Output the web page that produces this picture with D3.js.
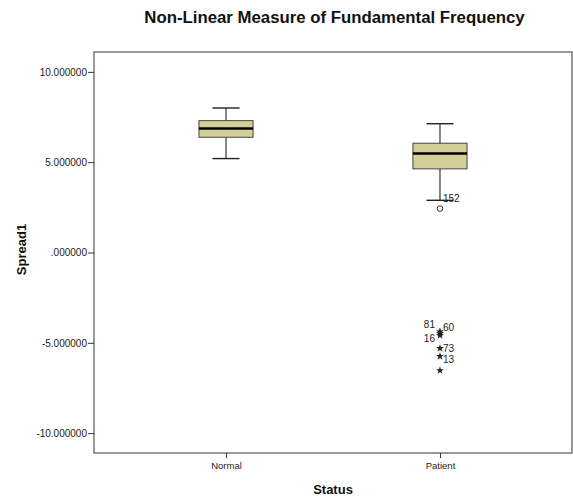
<!DOCTYPE html>
<html>
<head>
<meta charset="utf-8">
<script src="https://cdn.jsdelivr.net/npm/d3@7"></script>
<style>
  html, body { margin: 0; padding: 0; background: #fff; }
  svg { display: block; font-family: "Liberation Sans", Arial, sans-serif; }
</style>
</head>
<body>
<div id="chart"></div>
<script>
// groups and box summaries
const groups = ["Normal", "Patient"];
const whiskerLow = [5.20, 2.89];
const quart1 = [6.38, 4.63];
const medians = [6.86, 5.48];
const quart3 = [7.30, 6.05];
const whiskerHigh = [8.00, 7.13];

// outliers (circle) and extremes (star), Patient group
const outlierGroup = ["Patient"];
const outlierValues = [2.43];
const outlierLabels = ["152"];

const extremeGroup = ["Patient", "Patient", "Patient", "Patient", "Patient", "Patient"];
const extremeValues = [-4.37, -4.48, -4.59, -5.31, -5.75, -6.53];
const extremeLabels = ["81", "60", "16", "73", "13", ""];

const yTicks = [10, 5, 0, -5, -10];

const width = 573, height = 497;
const plot = {left: 94, right: 572, top: 52, bottom: 453};

const svg = d3.select("#chart").append("svg")
    .attr("width", width)
    .attr("height", height);

const x = d3.scalePoint()
    .domain(groups)
    .range([plot.left, plot.right])
    .padding(0.617);

const y = d3.scaleLinear()
    .domain([-11.1, 11.1])
    .range([plot.bottom, plot.top]);

const boxW = x.step() * 0.253;
const capW = boxW / 2;

// frame
svg.append("rect")
    .attr("x", plot.left)
    .attr("y", plot.top)
    .attr("width", plot.right - plot.left)
    .attr("height", plot.bottom - plot.top)
    .attr("fill", "none")
    .attr("stroke", "#555")
    .attr("stroke-width", 1.2);

// axes
const fmt = v => v === 0 ? ".000000" : v.toFixed(6);

const yAxis = svg.append("g")
    .attr("transform", `translate(${plot.left},0)`)
    .call(d3.axisLeft(y).tickValues(yTicks).tickFormat(fmt).tickSize(6).tickSizeOuter(0));
yAxis.select(".domain").remove();
yAxis.selectAll(".tick line").attr("stroke", "#333");
yAxis.selectAll(".tick text")
    .attr("x", -7)
    .attr("fill", "#222")
    .style("font-size", "10px")
    .style("font-family", "'Liberation Sans', Arial, sans-serif");

const xAxis = svg.append("g")
    .attr("transform", `translate(0,${plot.bottom})`)
    .call(d3.axisBottom(x).tickSize(5).tickSizeOuter(0));
xAxis.select(".domain").remove();
xAxis.selectAll(".tick line").attr("stroke", "#333");
xAxis.selectAll(".tick text")
    .attr("y", 9)
    .attr("fill", "#222")
    .style("font-size", "9.5px")
    .style("font-family", "'Liberation Sans', Arial, sans-serif");

// titles
svg.append("text")
    .attr("x", (plot.left + plot.right) / 2 + 1.5)
    .attr("y", 23)
    .attr("text-anchor", "middle")
    .style("font-size", "16.8px")
    .style("font-weight", "bold")
    .attr("fill", "#111")
    .text("Non-Linear Measure of Fundamental Frequency");

svg.append("text")
    .attr("x", (plot.left + plot.right) / 2)
    .attr("y", 494)
    .attr("text-anchor", "middle")
    .style("font-size", "13px")
    .style("font-weight", "bold")
    .attr("fill", "#111")
    .text("Status");

svg.append("text")
    .attr("transform", `translate(26,${(plot.top + plot.bottom) / 2 - 3}) rotate(-90)`)
    .attr("text-anchor", "middle")
    .style("font-size", "13px")
    .style("font-weight", "bold")
    .attr("fill", "#111")
    .text("Spread1");

// boxes
groups.forEach((g, i) => {
    const cx = x(g);
    const box = svg.append("g");

    box.append("line")
        .attr("x1", cx).attr("x2", cx)
        .attr("y1", y(whiskerHigh[i])).attr("y2", y(quart3[i]))
        .attr("stroke", "#333").attr("stroke-width", 1.2);
    box.append("line")
        .attr("x1", cx).attr("x2", cx)
        .attr("y1", y(quart1[i])).attr("y2", y(whiskerLow[i]))
        .attr("stroke", "#333").attr("stroke-width", 1.2);

    [whiskerHigh[i], whiskerLow[i]].forEach(v => {
        box.append("line")
            .attr("x1", cx - capW / 2).attr("x2", cx + capW / 2)
            .attr("y1", y(v)).attr("y2", y(v))
            .attr("stroke", "#222").attr("stroke-width", 1.4);
    });

    box.append("rect")
        .attr("x", cx - boxW / 2)
        .attr("y", y(quart3[i]))
        .attr("width", boxW)
        .attr("height", y(quart1[i]) - y(quart3[i]))
        .attr("fill", "#d4cf98")
        .attr("stroke", "#444")
        .attr("stroke-width", 1);

    box.append("line")
        .attr("x1", cx - boxW / 2).attr("x2", cx + boxW / 2)
        .attr("y1", y(medians[i])).attr("y2", y(medians[i]))
        .attr("stroke", "#000").attr("stroke-width", 2.5);
});

// outliers (circles)
outlierValues.forEach((v, i) => {
    const cx = x(outlierGroup[i]);
    svg.append("circle")
        .attr("cx", cx).attr("cy", y(v))
        .attr("r", 2.8)
        .attr("fill", "none")
        .attr("stroke", "#333")
        .attr("stroke-width", 1);
    svg.append("text")
        .attr("x", cx + 3)
        .attr("y", y(v) - 7)
        .style("font-size", "10px")
        .attr("fill", "#222")
        .text(outlierLabels[i]);
});

// extremes (stars); labels in a tight cluster fan out left/right/left,
// the rest sit on the right and are pushed down so they don't collide
const star = d3.symbol().type(d3.symbolStar).size(20);
const clusterPos = [];
extremeValues.forEach((v, i) => {
    const close = i > 0 && Math.abs(y(v) - y(extremeValues[i - 1])) < 4;
    clusterPos.push(close ? clusterPos[i - 1] + 1 : 0);
});
const fanSide = [-1, 1, -1];
const fanDy = [-3, -2, 7];
const lastBase = {"-1": -Infinity, "1": -Infinity};

extremeValues.forEach((v, i) => {
    const cx = x(extremeGroup[i]);
    const cy = y(v);
    const inCluster = clusterPos[i] > 0 ||
        (i + 1 < extremeValues.length && clusterPos[i + 1] > 0);
    const side = inCluster ? fanSide[clusterPos[i] % 3] : 1;
    let base = cy + (inCluster ? fanDy[clusterPos[i] % 3] : 4);
    if (!inCluster) base = Math.max(base, lastBase[side] + 10.5);

    svg.append("path")
        .attr("d", star)
        .attr("transform", `translate(${cx},${cy})`)
        .attr("fill", "#222");

    if (extremeLabels[i]) {
        lastBase[side] = base;
        svg.append("text")
            .attr("x", side > 0 ? cx + 3 : cx - 5)
            .attr("y", base)
            .attr("text-anchor", side > 0 ? "start" : "end")
            .style("font-size", "10px")
            .attr("fill", "#222")
            .text(extremeLabels[i]);
    }
});
</script>
</body>
</html>
